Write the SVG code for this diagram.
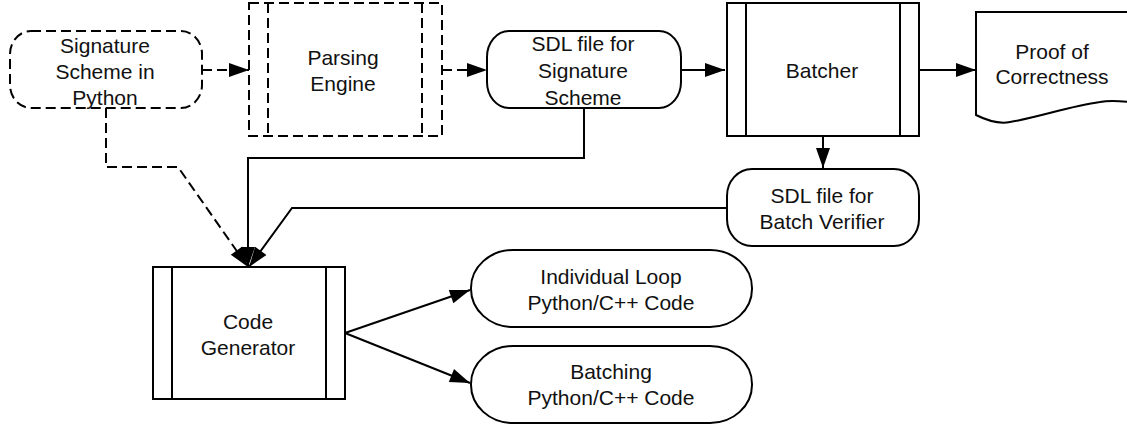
<svg xmlns="http://www.w3.org/2000/svg" width="1127" height="425" viewBox="0 0 1127 425">
<style>
  .shape { fill: #ffffff; stroke: #000000; stroke-width: 2; }
  .dash { stroke-dasharray: 10 5; }
  .line { fill: none; stroke: #000000; stroke-width: 2; }
  .lbl { font-family: "Liberation Sans", Arial, Helvetica, sans-serif; font-size: 21px; fill: #111111; text-anchor: middle; }
</style>
<defs>
  <marker id="arrow" markerUnits="userSpaceOnUse" markerWidth="20" markerHeight="14" refX="20" refY="7" orient="auto" overflow="visible">
    <path d="M0,0 L20,7 L0,14 z" fill="#000000"/>
  </marker>
</defs>
<rect width="1127" height="425" fill="#ffffff"/>

<g id="connectors">
  <path class="line dash" d="M202,70 H249" marker-end="url(#arrow)"/>
  <path class="line dash" d="M442,70 H487" marker-end="url(#arrow)"/>
  <path class="line" d="M681,70 H725" marker-end="url(#arrow)"/>
  <path class="line" d="M919,70 H976" marker-end="url(#arrow)"/>
  <path class="line" d="M823,136 V168" marker-end="url(#arrow)"/>
  <path class="line dash" d="M106,108 V167 H178 L248,267" marker-end="url(#arrow)"/>
  <path class="line" d="M584,108 V158 H248 V267" marker-end="url(#arrow)"/>
  <path class="line" d="M727,208 H292 L249,267" marker-end="url(#arrow)"/>
  <path class="line" d="M345,333 L470,290" marker-end="url(#arrow)"/>
  <path class="line" d="M345,333 L470,383" marker-end="url(#arrow)"/>
</g>

<g id="signature-scheme">
  <rect class="shape dash" x="10" y="31" width="192" height="77" rx="21" ry="23"/>
  <text class="lbl" x="105" y="52.5">Signature</text>
  <text class="lbl" x="105" y="78.5">Scheme in</text>
  <text class="lbl" x="105" y="104.5">Python</text>
</g>

<g id="parsing-engine">
  <rect class="shape dash" x="249" y="3" width="193" height="133"/>
  <path class="line dash" d="M268,3 V136 M422,3 V136"/>
  <text class="lbl" x="343" y="64.5">Parsing</text>
  <text class="lbl" x="343" y="90.5">Engine</text>
</g>

<g id="sdl-signature">
  <rect class="shape" x="487" y="31" width="194" height="77" rx="22" ry="26"/>
  <text class="lbl" x="583" y="50.5">SDL file for</text>
  <text class="lbl" x="583" y="77.5">Signature</text>
  <text class="lbl" x="583" y="104.5">Scheme</text>
</g>

<g id="batcher">
  <rect class="shape" x="727" y="3" width="192" height="133"/>
  <path class="line" d="M746,3 V136 M900,3 V136"/>
  <text class="lbl" x="822" y="77.5">Batcher</text>
</g>

<g id="proof">
  <path class="shape" d="M976,12 H1130 V102 C1120,101 1110,100 1100,102 C1070,106 1040,117 1010,122 C1000,124 990,122 976,115 Z"/>
  <text class="lbl" x="1052" y="58.5">Proof of</text>
  <text class="lbl" x="1052" y="83.5">Correctness</text>
</g>

<g id="sdl-batch-verifier">
  <rect class="shape" x="727" y="169" width="192" height="77" rx="25" ry="27"/>
  <text class="lbl" x="822" y="202.5">SDL file for</text>
  <text class="lbl" x="822" y="228.5">Batch Verifier</text>
</g>

<g id="code-generator">
  <rect class="shape" x="153" y="267" width="192" height="132"/>
  <path class="line" d="M172,267 V399 M326,267 V399"/>
  <text class="lbl" x="248" y="329">Code</text>
  <text class="lbl" x="248" y="355">Generator</text>
</g>

<g id="individual-loop">
  <rect class="shape" x="471" y="250" width="281" height="77" rx="42" ry="38"/>
  <text class="lbl" x="611" y="283.5">Individual Loop</text>
  <text class="lbl" x="611" y="309.5">Python/C++ Code</text>
</g>

<g id="batching">
  <rect class="shape" x="471" y="346" width="281" height="77" rx="42" ry="38"/>
  <text class="lbl" x="611" y="379">Batching</text>
  <text class="lbl" x="611" y="405">Python/C++ Code</text>
</g>
</svg>
